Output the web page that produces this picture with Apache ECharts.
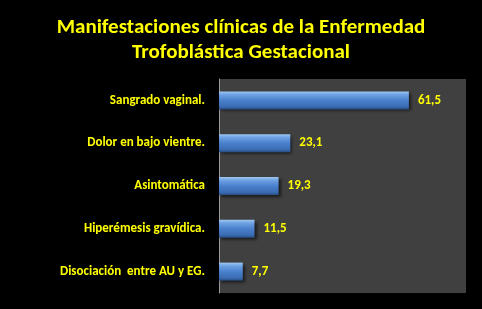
<!DOCTYPE html>
<html><head><meta charset="utf-8">
<script src="https://cdn.jsdelivr.net/npm/echarts@6/dist/echarts.min.js"></script>
<style>html,body{margin:0;padding:0;background:#000;}#c{width:482px;height:309px;}</style>
</head><body><div id="c"></div>
<script>
const categories = ["Sangrado vaginal.", "Dolor en bajo vientre.", "Asintomática", "Hiperémesis gravídica.", "Disociación  entre AU y EG."];
const values = [61.5, 23.1, 19.3, 11.5, 7.7];
const titleText = "Manifestaciones clínicas de la Enfermedad\nTrofoblástica Gestacional";

const chart = echarts.init(document.getElementById('c'));
const font = "Carlito, Calibri, 'Open Sans', sans-serif";
chart.setOption({
  backgroundColor: '#000',
  animation: false,
  title: {
    text: titleText, left: 'center', top: 10,
    textStyle: {color: '#ffff00', fontSize: 21, fontWeight: 'bold', fontFamily: font, lineHeight: 25}
  },
  grid: {left: 219, right: 16, top: 79, bottom: 16, show: true, backgroundColor: '#404040', borderWidth: 0},
  xAxis: {type: 'value', min: 0, max: 80, show: false, splitLine: {show: false}},
  yAxis: {
    type: 'category', inverse: true, data: categories,
    axisLine: {show: true, lineStyle: {color: '#9a9a9a', width: 1}},
    axisTick: {show: false},
    axisLabel: {color: '#ffff00', fontSize: 13, fontWeight: 'bold', fontFamily: font, margin: 14}
  },
  series: [{
    type: 'bar', data: values, barWidth: 18,
    itemStyle: {
      color: new echarts.graphic.LinearGradient(0, 0, 0, 1, [
        {offset: 0, color: '#a0c8f2'}, {offset: 0.18, color: '#6ea2e4'},
        {offset: 0.5, color: '#4a80cc'}, {offset: 0.85, color: '#3a6cb2'}, {offset: 1, color: '#264c82'}
      ]),
      shadowColor: 'rgba(0,0,0,0.6)', shadowBlur: 3, shadowOffsetX: 2, shadowOffsetY: 2
    },
    label: {show: true, position: 'right', distance: 9, color: '#ffff00', fontSize: 13, fontWeight: 'bold', fontFamily: font,
      formatter: p => String(p.value).replace('.', ',')}
  }]
});
</script></body></html>
